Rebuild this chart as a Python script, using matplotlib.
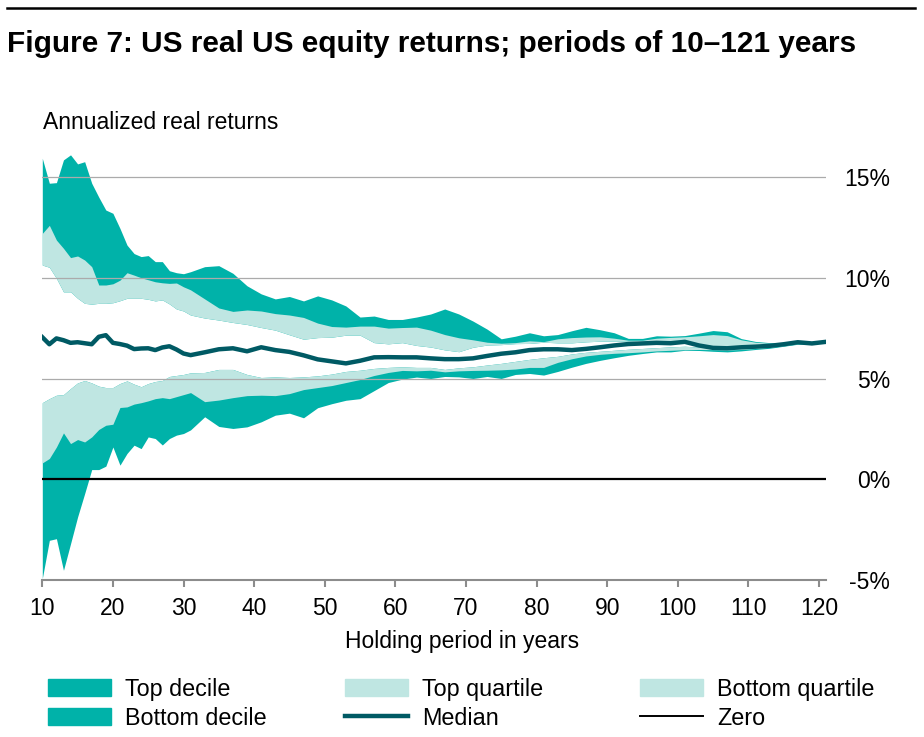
import matplotlib
matplotlib.use("Agg")
import matplotlib.pyplot as plt
from matplotlib.patches import Patch
from matplotlib.lines import Line2D

plt.rcParams['font.family'] = ['Liberation Sans', 'DejaVu Sans']

years = list(range(10, 31)) + list(range(31, 122, 2))

# band edges, annualized real return in %
ret_max = [15.93, 14.69, 14.72, 15.85, 16.1, 15.65, 15.76, 14.69, 14.0, 13.36, 13.2,
           12.45, 11.62, 11.2, 11.05, 11.1, 10.8, 10.8, 10.35, 10.25, 10.2,
           10.3, 10.55, 10.6, 10.22, 9.6, 9.2, 8.95, 9.07, 8.85, 9.1, 8.9, 8.6, 8.05, 8.1,
           7.93, 7.93, 8.05, 8.2, 8.45, 8.2, 7.85, 7.45, 6.97, 7.1, 7.27, 7.12, 7.18, 7.37,
           7.54, 7.42, 7.27, 6.99, 6.99, 7.12, 7.1, 7.13, 7.25, 7.38, 7.32, 6.98, 6.84,
           6.78, 6.77, 6.85, 6.83, 6.82]
ret_p90 = [12.2, 12.6, 11.87, 11.46, 11.0, 11.08, 10.88, 10.55, 9.64, 9.64, 9.7,
           9.88, 10.25, 10.13, 10.0, 9.9, 9.8, 9.75, 9.72, 9.74, 9.55,
           9.4, 8.95, 8.5, 8.33, 8.4, 8.35, 8.22, 8.15, 8.03, 7.75, 7.58, 7.55, 7.6, 7.6,
           7.5, 7.53, 7.55, 7.4, 7.18, 7.02, 6.92, 6.8, 6.75, 6.78, 6.87, 6.83, 6.97, 7.03,
           7.06, 7.07, 7.0, 6.9, 6.9, 7.0, 7.04, 7.07, 7.12, 7.18, 7.13, 6.92, 6.8,
           6.75, 6.76, 6.85, 6.8, 6.82]
ret_p75 = [10.63, 10.52, 9.97, 9.3, 9.3, 8.98, 8.73, 8.69, 8.73, 8.73, 8.76,
           8.86, 8.98, 8.98, 8.98, 8.93, 8.85, 8.9, 8.7, 8.45, 8.35,
           8.15, 8.0, 7.9, 7.78, 7.68, 7.53, 7.4, 7.17, 6.95, 7.03, 7.05, 7.15, 7.15, 6.78,
           6.72, 6.78, 6.64, 6.56, 6.42, 6.33, 6.55, 6.66, 6.68, 6.73, 6.74, 6.8, 6.77, 6.77,
           6.82, 6.85, 6.86, 6.86, 6.82, 6.82, 6.82, 6.84, 6.72, 6.62, 6.56, 6.58, 6.64,
           6.69, 6.73, 6.8, 6.75, 6.82]
ret_median = [7.05, 6.7, 6.99, 6.9, 6.77, 6.8, 6.75, 6.7, 7.07, 7.15, 6.77,
              6.71, 6.63, 6.46, 6.49, 6.5, 6.41, 6.54, 6.6, 6.44, 6.24,
              6.16, 6.3, 6.45, 6.5, 6.35, 6.55, 6.41, 6.32, 6.15, 5.95, 5.85, 5.75, 5.88, 6.05,
              6.06, 6.05, 6.05, 6.0, 5.96, 5.96, 6.0, 6.12, 6.23, 6.3, 6.41, 6.45, 6.45, 6.41,
              6.47, 6.55, 6.64, 6.71, 6.74, 6.77, 6.75, 6.82, 6.64, 6.52, 6.5, 6.55, 6.58,
              6.62, 6.7, 6.8, 6.74, 6.82]
ret_p25 = [3.8, 4.0, 4.17, 4.2, 4.5, 4.78, 4.9, 4.78, 4.62, 4.55, 4.55,
           4.75, 4.88, 4.72, 4.59, 4.75, 4.85, 4.9, 5.1, 5.15, 5.2,
           5.28, 5.3, 5.45, 5.45, 5.2, 5.05, 5.08, 5.05, 5.08, 5.13, 5.22, 5.35, 5.41, 5.5,
           5.55, 5.58, 5.55, 5.55, 5.45, 5.53, 5.58, 5.67, 5.75, 5.85, 5.95, 6.03, 6.1, 6.22,
           6.3, 6.35, 6.4, 6.45, 6.49, 6.53, 6.57, 6.6, 6.56, 6.5, 6.45, 6.47, 6.53,
           6.58, 6.65, 6.75, 6.73, 6.82]
ret_p10 = [0.81, 1.03, 1.6, 2.3, 1.77, 1.97, 1.85, 2.1, 2.47, 2.68, 2.73,
           3.56, 3.59, 3.73, 3.8, 3.89, 4.0, 4.05, 4.0, 4.1, 4.2,
           4.3, 3.85, 3.93, 4.05, 4.15, 4.17, 4.15, 4.25, 4.45, 4.55, 4.65, 4.8, 4.95, 5.15,
           5.3, 5.4, 5.38, 5.41, 5.33, 5.38, 5.4, 5.41, 5.43, 5.47, 5.55, 5.55, 5.8, 5.98,
           6.12, 6.2, 6.25, 6.28, 6.32, 6.37, 6.4, 6.43, 6.44, 6.43, 6.41, 6.44, 6.49,
           6.55, 6.63, 6.73, 6.72, 6.82]
ret_min = [-4.93, -3.03, -2.95, -4.52, -3.2, -1.87, -0.71, 0.48, 0.48, 0.65, 1.6,
           0.7, 1.28, 1.69, 1.52, 2.1, 2.02, 1.7, 2.02, 2.19, 2.27,
           2.45, 3.1, 2.62, 2.52, 2.6, 2.85, 3.18, 3.28, 3.05, 3.55, 3.75, 3.92, 4.0, 4.4,
           4.8, 4.97, 5.07, 5.0, 5.1, 5.08, 5.0, 5.1, 5.0, 5.2, 5.25, 5.17, 5.35, 5.56,
           5.75, 5.9, 6.03, 6.15, 6.24, 6.32, 6.32, 6.4, 6.39, 6.35, 6.32, 6.37, 6.44,
           6.5, 6.6, 6.7, 6.7, 6.82]

x_ticks = [10, 20, 30, 40, 50, 60, 70, 80, 90, 100, 110, 120]
y_ticks = [-5, 0, 5, 10, 15]
y_labels = ['-5%', '0%', '5%', '10%', '15%']

DARK = '#00B2A9'
LIGHT = '#BFE6E2'
MEDIAN = '#005A64'
GRID = '#ABABAB'
AXIS = '#8C8C8C'
FS = 16.5

fig = plt.figure(figsize=(9.24, 7.37), dpi=100)
ax = fig.add_axes([42.3 / 924, 157 / 737, (826 - 42.3) / 924, 430 / 737])

# dark bands first, light quartile bands laid over them
ax.fill_between(years, ret_p75, ret_max, color=DARK, lw=0, zorder=1)
ax.fill_between(years, ret_p75, ret_p90, color=LIGHT, lw=0, zorder=2)
ax.fill_between(years, ret_min, ret_p25, color=DARK, lw=0, zorder=1)
ax.fill_between(years, ret_p10, ret_p25, color=LIGHT, lw=0, zorder=2)

for g in [5, 10, 15]:
    ax.axhline(g, color=GRID, lw=0.9, zorder=3)
ax.axhline(0, color='black', lw=1.6, zorder=4)
ax.plot(years, ret_median, color=MEDIAN, lw=3.2, zorder=5, solid_joinstyle='round')

ax.set_xlim(10, 121)
ax.set_ylim(-5, 16.34)

for s in ['left', 'right', 'top']:
    ax.spines[s].set_visible(False)
ax.spines['bottom'].set_color(AXIS)
ax.spines['bottom'].set_linewidth(1.5)

ax.set_xticks(x_ticks)
ax.set_xticklabels([str(t) for t in x_ticks])
ax.tick_params(axis='x', direction='out', length=5, width=1.5, color=AXIS,
               labelsize=FS, pad=7)

ax.yaxis.tick_right()
ax.set_yticks(y_ticks)
ax.set_yticklabels(y_labels)
ax.tick_params(axis='y', length=0, labelsize=FS, pad=46)
for lab in ax.get_yticklabels():
    lab.set_horizontalalignment('right')

# top rule and texts
fig.add_artist(Line2D([7 / 924, 915 / 924], [1 - 8 / 737, 1 - 8 / 737],
                      color='black', lw=1.8, transform=fig.transFigure))
fig.text(7 / 924, 1 - 52 / 737, 'Figure 7: US real US equity returns; periods of 10\u2013121 years',
         fontsize=21.4, fontweight='bold', va='baseline', ha='left')
fig.text(43 / 924, 1 - 129 / 737, 'Annualized real returns', fontsize=FS,
         va='baseline', ha='left')
fig.text(462 / 924, 1 - 648 / 737, 'Holding period in years', fontsize=FS,
         va='baseline', ha='center')

# legend, three columns
columns = [
    ([Patch(color=DARK), Patch(color=DARK)], ['Top decile', 'Bottom decile'], 48),
    ([Patch(color=LIGHT), Line2D([], [], color=MEDIAN, lw=3.2)], ['Top quartile', 'Median'], 345),
    ([Patch(color=LIGHT), Line2D([], [], color='black', lw=1.4)], ['Bottom quartile', 'Zero'], 640),
]
for handles, labels, xpx in columns:
    fig.legend(handles, labels, loc='upper left', bbox_to_anchor=(xpx / 924, 1 - 678 / 737),
               frameon=False, fontsize=16.8, borderpad=0, borderaxespad=0,
               handlelength=2.7, handleheight=0.75, handletextpad=0.6, labelspacing=0.25)

fig.savefig('out.png', dpi=100)
